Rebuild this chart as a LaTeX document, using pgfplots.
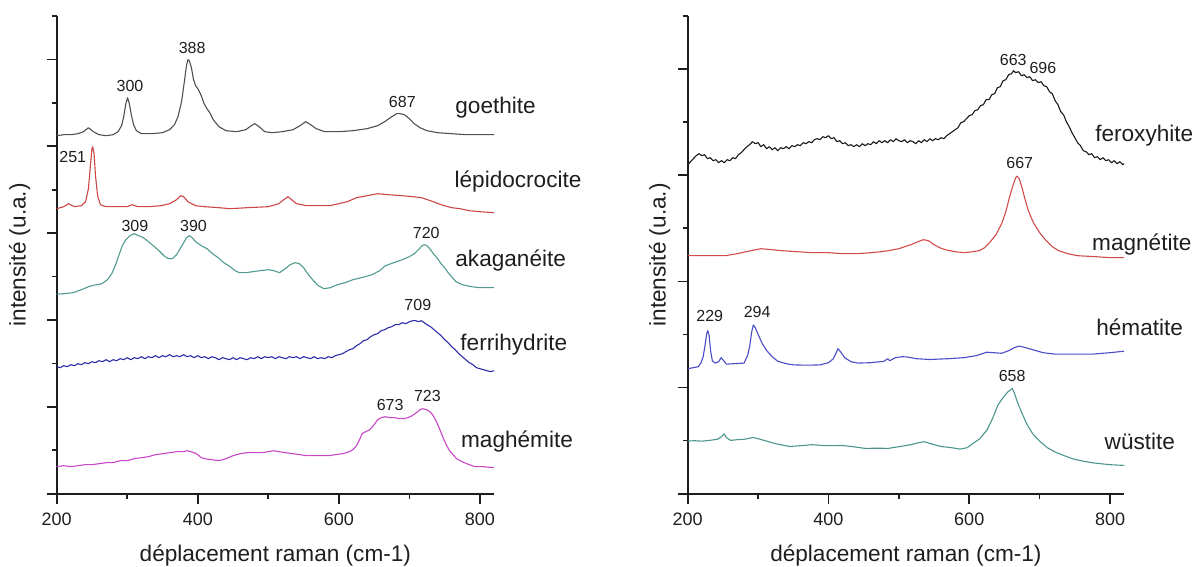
\documentclass[border=0pt]{standalone}
\usepackage{pgfplots}
\pgfplotsset{compat=1.18}
\usepackage{fontspec}
\setmainfont{Liberation Sans}
\definecolor{axc}{RGB}{30,30,30}
\definecolor{txt}{RGB}{30,30,30}
\definecolor{cgoe}{RGB}{80,80,80}
\definecolor{clep}{RGB}{205,70,70}
\definecolor{caka}{RGB}{80,155,145}
\definecolor{cfer}{RGB}{45,45,170}
\definecolor{cmag}{RGB}{200,70,200}
\definecolor{cfox}{RGB}{25,25,25}
\definecolor{cmgt}{RGB}{210,75,75}
\definecolor{chem}{RGB}{75,75,200}
\definecolor{cwus}{RGB}{75,150,140}
\tikzset{
 pk/.style={font=\fontsize{8}{9}\selectfont, text=txt, inner sep=0pt},
 sl/.style={anchor=west, font=\fontsize{11.3}{13}\selectfont, text=txt, inner sep=0pt},
}
\pgfplotsset{
 rk/.style={
  scale only axis, height=238.85pt,
  xmin=200, xmax=820, ymin=0, ymax=477.7, enlargelimits=false,
  axis x line*=bottom, axis y line*=left,
  axis line style={line width=0.85pt, color=axc},
  every tick/.style={line width=0.85pt, color=axc},
  tick align=outside, major tick length=5pt, minor tick length=2.5pt,
  xtick={200,400,600,800}, minor xtick={300,500,700},
  yticklabels={},
  xticklabel style={font=\fontsize{9}{10}\selectfont, anchor=center, yshift=-8pt, text=txt},
  /pgf/number format/assume math mode=true,
  xlabel={déplacement raman (cm-1)}, ylabel={intensité (u.a.)},
  label style={font=\fontsize{11.3}{13}\selectfont, text=txt},
  xlabel style={at={([yshift=-31pt]axis description cs:0.5,0)}, anchor=center},
  clip=false,
  every axis plot/.append style={line width=0.55pt, line join=round},
 },
}
\begin{document}
\begin{tikzpicture}
\path[use as bounding box] (0,0) rectangle (597pt,283.5pt);
% ---------------- left panel ----------------
\begin{axis}[rk, at={(28.35pt,36.65pt)}, anchor=south west, width=218.65pt,
  ytick={0,86.85,173.71,260.56,347.42,434.27},
  minor ytick={43.43,130.28,217.14,303.99,390.85,477.7},
  ylabel style={at={([xshift=-18.5pt]axis description cs:0,0.5)}, anchor=center}]
\addplot[cgoe] coordinates {(200,358) (210,359) (220,359) (230,360) (238,362) (245,366) (252,362) (260,359) (270,358) (280,359) (287,362) (292,368) (295,377) (298,390) (300.5,396) (303,390) (306,378) (309,369) (313,363) (320,360) (335,360) (350,361) (360,364) (367,369) (372,377) (377,392) (381,412) (384,428) (386,434) (388,433) (391,426) (394,414) (397,408) (401,404) (405,398) (409,390) (413,385) (417,381) (422,374) (430,367) (440,363) (455,362) (468,364) (476,368) (481,370) (487,367) (495,362) (505,361) (520,362) (535,364) (545,368) (553,372) (560,369) (568,365) (580,362) (600,362) (620,363) (640,365) (655,368) (665,372) (675,377) (682,380) (687,380) (693,379) (700,375) (707,370) (715,366) (725,363) (740,361) (760,360) (780,359) (800,359) (820,359)};
\addplot[clep] coordinates {(200,285) (210,287) (217,290) (225,287) (235,288) (241,292) (245,305) (248,330) (250,345) (251,347) (253,340) (255,318) (258,298) (262,289) (270,287) (285,287) (300,287) (307,289) (315,287) (330,287) (348,288) (360,290) (370,294) (376,298) (380,297) (386,292) (397,288) (410,287) (430,286) (446,285) (470,286) (500,287) (515,290) (522,294) (528,297) (533,294) (540,290) (554,288) (570,288) (587,288) (600,290) (612,292) (625,296) (640,298) (655,300) (670,299) (690,298) (705,297) (717,296) (730,293) (745,289) (760,286) (772,285) (785,283) (800,282) (820,281)};
\addplot[caka] coordinates {(200,199.5) (210,200) (223,201) (235,204) (245,207) (253,208.5) (264,210) (272,214) (278,220) (283,228) (288,238) (293,248) (298,254) (304,258) (310,260) (316,258) (323,256) (330,252) (337,248) (345,243) (352,238) (358,235) (364,235) (370,239) (375,245) (380,251) (384,256) (388,258) (392,256) (397,252) (405,248) (413,245) (421,240) (429,236) (437,231) (446,227) (453,223) (459,221) (468,221) (478,222) (488,223) (500,224) (508,223) (516,221) (524,225) (531,229) (538,231) (544,230) (550,226) (557,219) (564,213) (571,208) (579,205) (588,206) (598,209) (609,211) (620,214) (632,216) (647,219) (658,223) (666,228) (678,231) (690,234) (700,237) (707,240) (713,244) (718,248) (721,249) (725,248) (730,244) (734,240) (740,235) (745,230) (750,226) (755,221) (761,216) (766,212) (775,209) (788,207) (800,206) (820,206)};
\addplot[cfer] coordinates {(200,127) (205,126) (210,128) (215,127) (220,129) (225,128) (230,130) (235,129) (240,131) (245,130) (250,132) (255,131) (260,133) (265,132) (270,134) (275,132) (280,134) (285,133) (290,135) (295,134) (300,136) (305,134) (310,136) (315,135) (320,137) (325,135) (330,137) (335,136) (340,138) (345,136) (350,138) (355,137) (360,139) (365,137) (370,138) (375,137) (380,139) (385,137) (390,138) (395,136) (400,138) (405,136) (410,137) (415,135) (420,137) (425,136) (430,134) (435,136) (440,135) (445,134) (450,136) (455,134) (460,136) (465,135) (470,134) (475,136) (480,135) (485,137) (490,135) (495,137) (500,136) (505,137) (510,135) (515,137) (520,136) (525,135) (530,137) (535,136) (540,137) (545,135) (550,137) (555,136) (560,135) (565,137) (570,135) (575,136) (580,135) (585,137) (590,136) (595,138) (600,139) (605,140) (610,142) (615,144) (620,145) (625,148) (630,150) (635,153) (640,154) (645,157) (650,159) (655,160) (660,163) (665,164) (670,166) (675,167) (680,169) (685,169) (690,171) (695,170) (700,172) (705,173) (709,173) (713,172) (717,173) (721,171) (725,169) (730,167) (735,164) (740,161) (745,158) (750,154) (755,151) (760,147) (765,144) (770,140) (775,137) (780,134) (785,131) (790,129) (795,126) (800,125) (805,124) (810,123) (815,122) (820,123)};
\addplot[cmag] coordinates {(200,27) (210,28) (220,27) (230,28) (240,29) (250,29) (260,30) (270,31) (280,31) (290,33) (300,33) (310,35) (320,36) (330,37) (340,39) (350,40) (360,41) (370,42) (380,42) (385,43) (390,42) (395,41) (400,39) (405,36) (410,35) (420,34) (430,33) (440,35) (450,38) (460,40) (470,41) (480,41) (490,41) (500,42) (508,43) (515,42) (525,41) (535,40) (545,39) (555,38) (565,38) (575,38) (585,38) (595,39) (605,40) (615,42) (620,44) (625,48) (630,55) (633,60) (638,62) (644,64) (650,69) (655,74) (660,76) (666,77) (672,76) (679,76) (686,75) (692,75) (698,76) (704,78) (710,81) (715,84) (719,85) (724,84) (729,82) (733,79) (737,74) (741,68) (745,61) (749,54) (753,48) (757,43) (762,39) (767,35) (772,33) (778,31) (785,29) (793,27) (805,27) (820,26)};
\node[pk] at (axis cs:304,408) {300};
\node[pk] at (axis cs:392,446) {388};
\node[pk] at (axis cs:690,392) {687};
\node[pk] at (axis cs:222.8,336.6) {251};
\node[pk] at (axis cs:310.9,268) {309};
\node[pk] at (axis cs:394,268) {390};
\node[pk] at (axis cs:724,261) {720};
\node[pk] at (axis cs:712,188.6) {709};
\node[pk] at (axis cs:672.8,88.9) {673};
\node[pk] at (axis cs:725.6,98) {723};
\node[sl] at (axis cs:764.7,386.3) {goethite};
\node[sl] at (axis cs:763.6,311.9) {lépidocrocite};
\node[sl] at (axis cs:764.7,233.2) {akaganéite};
\node[sl] at (axis cs:771.8,148.7) {ferrihydrite};
\node[sl] at (axis cs:772.8,51.9) {maghémite};
\end{axis}
% ---------------- right panel ----------------
\begin{axis}[rk, at={(343.85pt,36.65pt)}, anchor=south west, width=218.2pt,
  ytick={0,106.16,212.31,318.47,424.62},
  minor ytick={53.08,159.23,265.39,371.54,477.7},
  ylabel style={at={([xshift=-14pt]axis description cs:0,0.5)}, anchor=center}]
\addplot[cfox] coordinates {(200,329) (204,332) (208,335) (212,338) (216,340) (220,338) (224,339) (228,335) (232,336) (236,333) (240,334) (244,331) (248,333) (252,331) (256,334) (260,333) (264,336) (268,335) (272,339) (276,341) (280,344) (284,347) (288,349) (292,352) (296,350) (300,351) (304,347) (308,349) (312,345) (316,347) (320,344) (324,346) (328,343) (332,346) (336,345) (340,347) (344,345) (348,348) (352,347) (356,349) (360,348) (364,351) (368,350) (372,352) (376,351) (380,354) (384,355) (388,354) (392,357) (396,356) (400,358) (404,355) (408,356) (412,352) (416,353) (420,350) (424,351) (428,348) (432,349) (436,347) (440,349) (444,347) (448,350) (452,348) (456,350) (460,349) (464,352) (468,350) (472,353) (476,351) (480,353) (484,351) (488,354) (492,352) (496,355) (500,353) (504,352) (508,354) (512,351) (516,353) (520,352) (524,350) (528,353) (532,351) (536,354) (540,352) (544,355) (548,353) (552,355) (556,354) (560,356) (564,355) (568,358) (572,360) (576,362) (580,364) (584,366) (588,371) (592,372) (596,375) (600,378) (604,379) (608,383) (612,384) (616,388) (620,389) (624,394) (628,394) (632,399) (636,400) (640,406) (644,407) (648,413) (652,414) (656,419) (660,420) (663,423) (666,421) (670,422) (674,418) (678,419) (682,416) (686,417) (690,413) (694,414) (698,411) (702,412) (706,408) (710,407) (714,402) (718,400) (722,393) (726,389) (730,382) (734,379) (738,372) (742,367) (746,361) (750,356) (754,351) (758,348) (762,343) (766,342) (770,339) (774,340) (778,336) (782,337) (786,334) (790,336) (794,333) (798,334) (802,331) (806,333) (810,330) (814,332) (818,329) (820,330)};
\addplot[cmgt] coordinates {(200,238) (215,238) (230,238) (253,238) (270,240) (290,243) (304,245) (320,244) (334,243) (355,242) (377,241) (400,241) (420,240) (441,240) (460,241) (475,242) (485,243) (500,245) (517,249) (527,252) (535,254) (542,253) (550,249) (558,246) (566,244) (580,242) (593,241) (605,242) (614,243) (622,246) (630,252) (638,259) (646,270) (652,282) (657,296) (662,308) (666,316) (668,317.5) (671,315) (675,306) (679,295) (684,283) (688,276) (692,270) (700,261) (708,254) (718,247) (727,243) (740,240) (754,238) (780,237) (800,236) (820,236)};
\addplot[chem] coordinates {(200,125) (208,126) (215,127) (219,131) (222,137) (225,150) (227,160) (228.6,163) (230.5,158) (232.5,143) (235,133) (239,130.6) (244,132) (247.5,136) (250,134) (255,129.5) (265,130) (280,130.6) (285,138) (288,147) (291,162) (293.3,168.7) (296,166) (301,157.8) (306,150) (312,143.3) (320,137) (328,132.4) (340,130) (350,128.8) (370,128.5) (388,128.8) (400,131) (407,135) (411,141) (413.5,145) (417,142) (423,136) (432,132) (442,130.6) (460,131) (479,132.4) (484,135) (487,133) (495,136) (505,137) (512,136.7) (525,135) (544,134.2) (570,135) (592,136) (610,138) (625,141.5) (635,141) (646,140.4) (656,143) (664,146) (671,147.6) (680,146) (690,144) (705,141) (722,139.6) (750,139.5) (776,139.6) (800,141) (820,142.5)};
\addplot[cwus] coordinates {(200,52.6) (210,53) (220,52.5) (231,53.3) (242,54.4) (248,57) (251.8,59.8) (255,56) (261,53.3) (270,54) (280,54.4) (293,56.2) (300,55) (312,52.6) (325,50) (345,47.2) (360,48) (377,49) (395,48) (420,48.2) (435,47) (452,45.3) (470,45.5) (485,45.3) (500,47) (517,49) (528,51) (536,52) (545,50) (560,47.2) (575,46) (587,44.6) (597,46) (605,50) (615,55) (625,63.5) (633,75) (641,89) (648,96) (654.5,101.6) (661,105.2) (664,101) (668,92.5) (674,82) (681,70.7) (690,60) (700,52.6) (711,46) (722,41.7) (735,38) (749,34.5) (762,32.5) (776,30.8) (800,29) (820,28.3)};
\node[pk] at (axis cs:662.5,433.4) {663};
\node[pk] at (axis cs:704.6,426) {696};
\node[pk] at (axis cs:671.7,331) {667};
\node[pk] at (axis cs:231.3,177.7) {229};
\node[pk] at (axis cs:298.7,181.4) {294};
\node[pk] at (axis cs:661,117.9) {658};
\node[sl] at (axis cs:778.5,358) {feroxyhite};
\node[sl] at (axis cs:774.1,249.2) {magnétite};
\node[sl] at (axis cs:780,166.8) {hématite};
\node[sl] at (axis cs:791.9,52.6) {wüstite};
\end{axis}
\end{tikzpicture}
\end{document}
